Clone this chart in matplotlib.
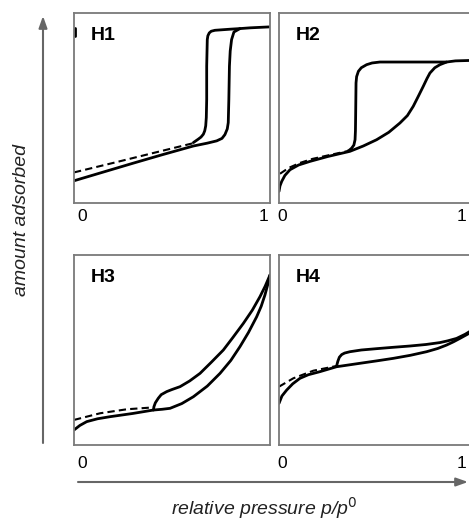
import matplotlib
matplotlib.use("Agg")
import matplotlib.pyplot as plt
from matplotlib.patches import FancyArrowPatch

plt.rcParams['font.family'] = ['Liberation Sans', 'DejaVu Sans']

# ---------------- data (x = p/p0, y = fraction of panel height) -------------
panel_labels = ["H1", "H2", "H3", "H4"]
tick_labels = ["0", "1"]
x_label = "relative pressure p/p$^{0}$"
y_label = "amount adsorbed"

h1_ads_x = [0.0, 0.15, 0.30, 0.45, 0.609, 0.68, 0.728, 0.755, 0.770, 0.782, 0.787, 0.790, 0.793, 0.797, 0.804, 0.816, 0.847, 0.90, 1.0]
h1_ads_y = [0.117, 0.163, 0.209, 0.254, 0.300, 0.315, 0.327, 0.340, 0.360, 0.390, 0.423, 0.545, 0.72, 0.80, 0.86, 0.900, 0.918, 0.922, 0.927]
h1_des_x = [0.847, 0.80, 0.719, 0.700, 0.690, 0.683, 0.680, 0.677, 0.677, 0.675, 0.672, 0.667, 0.660, 0.648, 0.634, 0.609]
h1_des_y = [0.918, 0.915, 0.909, 0.904, 0.895, 0.880, 0.860, 0.72, 0.545, 0.45, 0.406, 0.380, 0.362, 0.347, 0.336, 0.318]
h1_dash_x = [0.0, 0.20, 0.40, 0.609]
h1_dash_y = [0.161, 0.211, 0.262, 0.315]
h1_mark_x = [0.005, 0.005]
h1_mark_y = [0.88, 0.92]

h2_ads_x = [0.0, 0.005, 0.014, 0.030, 0.056, 0.10, 0.158, 0.25, 0.362, 0.43, 0.498, 0.56, 0.617, 0.655, 0.685, 0.710, 0.736, 0.755, 0.770, 0.795, 0.821, 0.855, 0.90, 1.0]
h2_ads_y = [0.061, 0.090, 0.114, 0.145, 0.175, 0.200, 0.219, 0.245, 0.272, 0.300, 0.333, 0.372, 0.421, 0.460, 0.509, 0.560, 0.614, 0.655, 0.684, 0.712, 0.728, 0.742, 0.748, 0.751]
h2_des_x = [0.855, 0.70, 0.515, 0.475, 0.447, 0.420, 0.405, 0.396, 0.393, 0.391, 0.390, 0.388, 0.382, 0.371, 0.360, 0.349]
h2_des_y = [0.742, 0.742, 0.742, 0.737, 0.728, 0.712, 0.693, 0.665, 0.632, 0.456, 0.380, 0.333, 0.305, 0.289, 0.279, 0.272]
h2_dash_x = [0.005, 0.05, 0.107, 0.17, 0.243, 0.345]
h2_dash_y = [0.154, 0.185, 0.211, 0.232, 0.249, 0.272]

h3_ads_x = [0.0, 0.03, 0.065, 0.12, 0.184, 0.30, 0.405, 0.450, 0.490, 0.55, 0.609, 0.68, 0.745, 0.80, 0.847, 0.89, 0.932, 0.955, 0.974, 0.99, 1.0]
h3_ads_y = [0.079, 0.103, 0.123, 0.138, 0.149, 0.166, 0.184, 0.188, 0.193, 0.218, 0.254, 0.310, 0.377, 0.445, 0.518, 0.592, 0.675, 0.730, 0.789, 0.850, 0.895]
h3_des_x = [1.0, 0.975, 0.949, 0.91, 0.864, 0.81, 0.762, 0.70, 0.643, 0.59, 0.541, 0.500, 0.473, 0.445, 0.430, 0.415, 0.408, 0.405]
h3_des_y = [0.895, 0.835, 0.781, 0.710, 0.640, 0.565, 0.500, 0.435, 0.377, 0.337, 0.307, 0.292, 0.281, 0.265, 0.246, 0.222, 0.202, 0.184]
h3_dash_x = [0.0, 0.133, 0.269, 0.405]
h3_dash_y = [0.132, 0.167, 0.188, 0.198]

h4_ads_x = [0.0, 0.015, 0.039, 0.07, 0.107, 0.15, 0.209, 0.294, 0.413, 0.50, 0.583, 0.67, 0.753, 0.81, 0.855, 0.89, 0.923, 0.96, 1.0]
h4_ads_y = [0.219, 0.258, 0.289, 0.322, 0.351, 0.370, 0.386, 0.412, 0.430, 0.443, 0.456, 0.472, 0.491, 0.508, 0.526, 0.543, 0.561, 0.582, 0.605]
h4_des_x = [1.0, 0.95, 0.906, 0.86, 0.821, 0.75, 0.668, 0.58, 0.498, 0.42, 0.362, 0.335, 0.320, 0.308, 0.300, 0.294]
h4_des_y = [0.614, 0.583, 0.561, 0.548, 0.539, 0.529, 0.521, 0.514, 0.507, 0.500, 0.491, 0.484, 0.476, 0.462, 0.440, 0.416]
h4_dash_x = [0.0, 0.073, 0.175, 0.294]
h4_dash_y = [0.307, 0.351, 0.391, 0.416]

# ---------------- figure ------------------------------------------------------------------------
W, H = 469, 520
fig = plt.figure(figsize=(W / 100, H / 100), dpi=100)

def px_axes(left, top, width, height):
    return fig.add_axes([left / W, 1 - (top + height) / H, width / W, height / H])

frame_col = "#7a7a7a"
curve_kw = dict(color="black", lw=2.0, solid_capstyle="round", solid_joinstyle="round")
dash_kw = dict(color="black", lw=1.5, dashes=(3.5, 2.0))

panels = [
    (74, 13, panel_labels[0], [(h1_ads_x, h1_ads_y), (h1_des_x, h1_des_y), (h1_mark_x, h1_mark_y)], (h1_dash_x, h1_dash_y)),
    (279, 13, panel_labels[1], [(h2_ads_x, h2_ads_y), (h2_des_x, h2_des_y)], (h2_dash_x, h2_dash_y)),
    (74, 255, panel_labels[2], [(h3_ads_x, h3_ads_y), (h3_des_x, h3_des_y)], (h3_dash_x, h3_dash_y)),
    (279, 255, panel_labels[3], [(h4_ads_x, h4_ads_y), (h4_des_x, h4_des_y)], (h4_dash_x, h4_dash_y)),
]

for left, top, lab, solids, dash in panels:
    ax = px_axes(left, top, 196, 190)
    ax.set_xlim(0, 1)
    ax.set_ylim(0, 1)
    ax.set_xticks([])
    ax.set_yticks([])
    for s in ax.spines.values():
        s.set_color(frame_col)
        s.set_linewidth(1.3)
    ax.plot(dash[0], dash[1], **dash_kw)
    for xs, ys in solids:
        ax.plot(xs, ys, **curve_kw)
    ax.text(17 / 196, 1 - 23 / 190, lab, transform=ax.transAxes, fontsize=14,
            fontweight="bold", ha="left", va="center")

# tick labels (0 and 1) below panels
for (x0, x1, y) in [(82, 263, 216), (282, 461, 216), (82, None, 464), (282, 461, 464)]:
    fig.text(x0 / W, 1 - y / H, tick_labels[0], fontsize=12.5, ha="center", va="center")
    if x1 is not None:
        fig.text(x1 / W, 1 - y / H, tick_labels[1], fontsize=12.5, ha="center", va="center")

# axis arrows
arrow_col = "#666666"
fig.patches.append(FancyArrowPatch((43 / W, 1 - 443 / H), (43 / W, 1 - 16 / H),
                                   transform=fig.transFigure, arrowstyle="-|>,head_length=7,head_width=2.5",
                                   color=arrow_col, lw=1.5, shrinkA=0, shrinkB=0))
fig.patches.append(FancyArrowPatch((78 / W, 1 - 482 / H), (468 / W, 1 - 482 / H),
                                   transform=fig.transFigure, arrowstyle="-|>,head_length=7,head_width=2.5",
                                   color=arrow_col, lw=1.5, shrinkA=0, shrinkB=0))

fig.text(264 / W, 1 - 508 / H, x_label, fontsize=14, style="italic", ha="center", va="center", color="#222222")
fig.text(22 / W, 1 - 220 / H, y_label, fontsize=14, style="italic", rotation=90,
         ha="center", va="center", color="#222222")

fig.savefig("out.png", dpi=100)
